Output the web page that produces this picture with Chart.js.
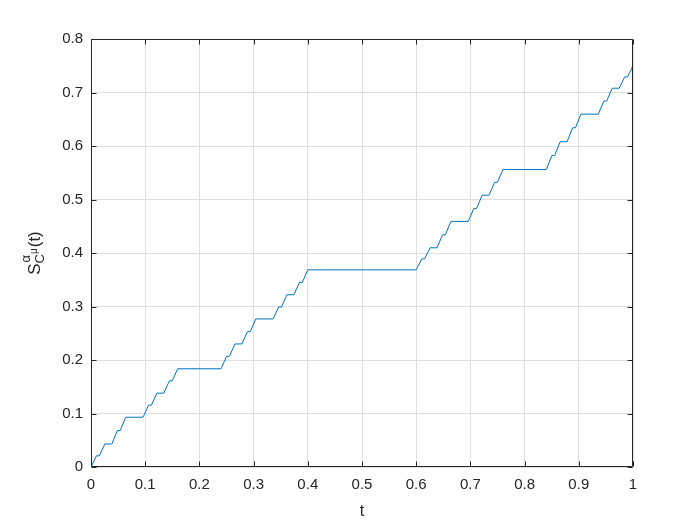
<!DOCTYPE html>
<html lang="en">
<head>
  <meta charset="UTF-8">
  <title>Cantor staircase</title>
  <script src="https://cdn.jsdelivr.net/npm/chart.js"></script>
  <style>
    body {
      margin: 0;
      padding: 0;
      background: #ffffff;
    }
    #wrap {
      width: 700px;
      height: 525px;
    }
  </style>
</head>
<body>

  <div id="wrap">
    <canvas id="stairChart" width="700" height="525"></canvas>
  </div>

  <script>
    // corner points of the staircase
    const tValues = [
      0, 0.0102, 0.0154, 0.0256, 0.0384, 0.0486, 0.0538, 0.064,
      0.096, 0.1062, 0.1114, 0.1216, 0.1344, 0.1446, 0.1498, 0.16,
      0.24, 0.2502, 0.2554, 0.2656, 0.2784, 0.2886, 0.2938, 0.304,
      0.336, 0.3462, 0.3514, 0.3616, 0.3744, 0.3846, 0.3898, 0.4,
      0.6, 0.6102, 0.6154, 0.6256, 0.6384, 0.6486, 0.6538, 0.664,
      0.696, 0.7062, 0.7114, 0.7216, 0.7344, 0.7446, 0.7498, 0.76,
      0.84, 0.8502, 0.8554, 0.8656, 0.8784, 0.8886, 0.8938, 0.904,
      0.936, 0.9462, 0.9514, 0.9616, 0.9744, 0.9846, 0.9898, 1
    ];
    const sValues = [
      0, 0.021, 0.021, 0.043, 0.043, 0.068, 0.068, 0.093,
      0.093, 0.1155, 0.1155, 0.138, 0.138, 0.161, 0.161, 0.1836,
      0.1836, 0.207, 0.207, 0.230, 0.230, 0.253, 0.253, 0.2767,
      0.2767, 0.299, 0.299, 0.322, 0.322, 0.345, 0.345, 0.3685,
      0.3685, 0.389, 0.389, 0.4097, 0.4097, 0.434, 0.434, 0.459,
      0.459, 0.483, 0.483, 0.508, 0.508, 0.532, 0.532, 0.556,
      0.556, 0.582, 0.582, 0.608, 0.608, 0.634, 0.634, 0.6595,
      0.6595, 0.684, 0.684, 0.708, 0.708, 0.729, 0.729, 0.75
    ];
    const xTicks = [0, 0.1, 0.2, 0.3, 0.4, 0.5, 0.6, 0.7, 0.8, 0.9, 1];
    const yTicks = [0, 0.1, 0.2, 0.3, 0.4, 0.5, 0.6, 0.7, 0.8];

    const FONT = "'Liberation Sans', Arial, sans-serif";
    const INK = '#262626';

    const points = tValues.map((t, i) => ({ x: t, y: sValues[i] }));

    // box round the axes with inward ticks on all four sides, plus axis labels
    const boxPlugin = {
      id: 'box',
      afterDraw(chart) {
        const ctx = chart.ctx;
        const a = chart.chartArea;
        const xs = chart.scales.x;
        const ys = chart.scales.y;
        const L = Math.round(a.left) + 0.5, R = Math.round(a.right) - 0.5;
        const T = Math.round(a.top) + 0.5, B = Math.round(a.bottom) - 0.5;
        ctx.save();
        ctx.strokeStyle = INK;
        ctx.lineWidth = 1;
        ctx.beginPath();
        ctx.rect(L, T, R - L, B - T);
        xTicks.forEach(v => {
          const px = Math.round(xs.getPixelForValue(v)) + 0.5;
          ctx.moveTo(px, B); ctx.lineTo(px, B - 5);
          ctx.moveTo(px, T); ctx.lineTo(px, T + 5);
        });
        yTicks.forEach(v => {
          const py = Math.round(ys.getPixelForValue(v)) + 0.5;
          ctx.moveTo(L, py); ctx.lineTo(L + 5, py);
          ctx.moveTo(R, py); ctx.lineTo(R - 5, py);
        });
        ctx.stroke();

        // x label
        ctx.fillStyle = INK;
        ctx.font = '16px ' + FONT;
        ctx.textAlign = 'center';
        ctx.textBaseline = 'alphabetic';
        ctx.fillText('t', (a.left + a.right) / 2, 516);

        // y label S^alpha_{C^mu}(t), rotated
        ctx.translate(40, (a.top + a.bottom) / 2);
        ctx.rotate(-Math.PI / 2);
        ctx.textAlign = 'left';
        const big = '17px ' + FONT, mid = '13px ' + FONT, small = '10px ' + FONT;
        ctx.font = big;
        const wS = ctx.measureText('S').width;
        const wT = ctx.measureText('(t)').width;
        ctx.font = mid;
        const wA = ctx.measureText('α').width;
        const wC = ctx.measureText('C').width;
        ctx.font = small;
        const wM = ctx.measureText('μ').width;
        const wGroup = Math.max(wA, wC + wM) + 1;
        let x0 = -(wS + wGroup + wT) / 2;
        ctx.font = big;
        ctx.fillText('S', x0, 0);
        ctx.font = mid;
        ctx.fillText('α', x0 + wS + 1, -10);
        ctx.fillText('C', x0 + wS, 4);
        ctx.font = small;
        ctx.fillText('μ', x0 + wS + wC, -3);
        ctx.font = big;
        ctx.fillText('(t)', x0 + wS + wGroup, 0);
        ctx.restore();
      }
    };

    const ctx = document.getElementById('stairChart').getContext('2d');
    const stairChart = new Chart(ctx, {
      type: 'scatter',
      data: {
        datasets: [{
          data: points,
          showLine: true,
          borderColor: '#0072bd',
          borderWidth: 1,
          pointRadius: 0,
          tension: 0
        }]
      },
      options: {
        responsive: false,
        animation: false,
        layout: {
          padding: { left: 0, right: 67, top: 39, bottom: 0 }
        },
        plugins: {
          legend: { display: false },
          tooltip: { enabled: false }
        },
        scales: {
          x: {
            type: 'linear',
            min: 0,
            max: 1,
            afterFit: s => { s.height = 58; },
            afterBuildTicks: s => { s.ticks = xTicks.map(v => ({ value: v })); },
            grid: { color: '#dfdfdf', drawTicks: false },
            border: { display: false },
            ticks: {
              padding: 9,
              color: INK,
              font: { family: FONT, size: 15 },
              maxRotation: 0,
              callback: v => String(+v.toFixed(1))
            }
          },
          y: {
            type: 'linear',
            min: 0,
            max: 0.8,
            afterFit: s => { s.width = 91; },
            afterBuildTicks: s => { s.ticks = yTicks.map(v => ({ value: v })); },
            grid: { color: '#dfdfdf', drawTicks: false },
            border: { display: false },
            ticks: {
              padding: 8,
              color: INK,
              font: { family: FONT, size: 15 },
              callback: v => String(+v.toFixed(1))
            }
          }
        }
      },
      plugins: [boxPlugin]
    });
  </script>

</body>
</html>
